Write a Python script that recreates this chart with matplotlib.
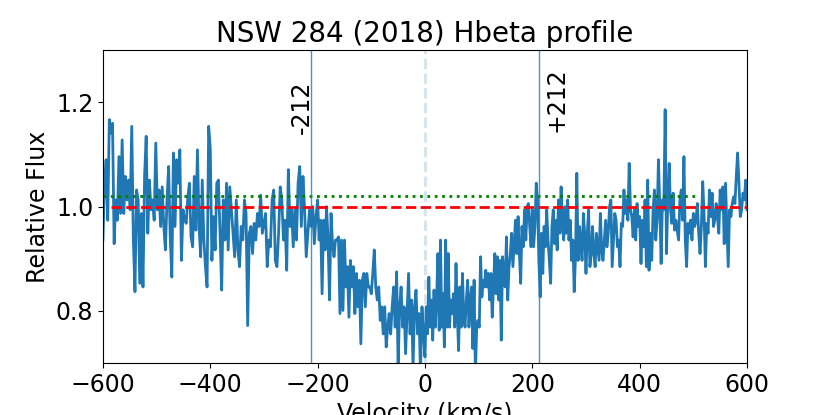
import numpy as np
import matplotlib
matplotlib.use("Agg")
import matplotlib.pyplot as plt

# Hbeta profile in six velocity segments
seg_edges = [-600, -400, -200, 0, 200, 400, 600]

flux_seg1 = [0.936, 1.045, 1.090, 0.974, 1.167, 1.141, 1.160, 0.929, 1.013, 0.974,
             1.096, 0.987, 1.128, 0.987, 1.058, 1.013, 1.051, 0.994, 1.154, 0.936,
             0.837, 1.032, 1.013, 0.853, 0.987, 0.846, 1.058, 1.135, 0.949, 1.051,
             0.994, 1.013, 0.974, 1.122, 0.994, 1.032, 0.962, 1.038, 0.962, 0.917,
             1.013, 1.077, 0.942, 0.865, 1.103, 0.962, 1.090, 1.045, 1.109, 0.897,
             0.994, 0.974, 0.968, 1.019, 1.045, 0.942, 0.923, 1.058, 0.955, 1.109,
             0.962, 0.904, 1.051, 0.936, 0.885, 0.846, 1.154]
flux_seg2 = [1.112, 0.897, 0.981, 0.917, 1.045, 1.051, 0.949, 0.840, 1.013, 0.936,
             1.045, 0.917, 1.038, 0.994, 0.949, 0.904, 1.013, 0.917, 0.885, 0.962,
             0.936, 1.013, 0.987, 0.772, 0.949, 0.962, 0.910, 0.968, 0.936, 0.987,
             0.962, 1.022, 0.949, 0.968, 0.987, 0.885, 0.936, 0.923, 1.013, 1.032,
             0.897, 0.885, 0.949, 1.038, 1.013, 0.936, 0.974, 0.878, 1.071, 0.962,
             0.994, 0.923, 0.994, 0.936, 1.045, 1.077, 0.962, 1.058, 0.994, 0.904,
             0.949, 0.994, 0.962, 1.000, 0.929, 0.981]
flux_seg3 = [1.013, 0.936, 0.974, 0.833, 0.974, 0.917, 1.000, 0.936, 0.821, 0.987,
             0.929, 0.904, 0.936, 0.936, 0.942, 0.795, 0.936, 0.801, 0.936, 0.846,
             0.885, 0.788, 0.897, 0.846, 0.885, 0.795, 0.872, 0.808, 0.859, 0.737,
             0.859, 0.872, 0.808, 0.872, 0.846, 0.846, 0.833, 0.872, 0.917, 0.846,
             0.821, 0.846, 0.782, 0.808, 0.756, 0.808, 0.731, 0.769, 0.795, 0.756,
             0.808, 0.846, 0.769, 0.875, 0.690, 0.808, 0.846, 0.769, 0.808, 0.718,
             0.795, 0.872, 0.756, 0.821, 0.690, 0.808, 0.840, 0.756, 0.795, 0.680,
             0.808, 0.756]
flux_seg4 = [0.712, 0.808, 0.756, 0.865, 0.769, 0.821, 0.744, 0.840, 0.769, 0.821,
             0.910, 0.763, 0.936, 0.769, 0.833, 0.731, 0.936, 0.769, 0.910, 0.769,
             0.821, 0.795, 0.833, 0.769, 0.891, 0.795, 0.724, 0.846, 0.769, 0.872,
             0.788, 0.769, 0.821, 0.859, 0.769, 0.821, 0.846, 0.728, 0.859, 0.680,
             0.769, 0.782, 0.769, 0.904, 0.827, 0.859, 0.846, 0.878, 0.846, 0.872,
             0.821, 0.872, 0.788, 0.846, 0.910, 0.833, 0.904, 0.821, 0.897, 0.744,
             0.904, 0.872, 0.846, 0.942, 0.821, 0.885, 0.910, 0.949, 0.885, 0.929,
             0.974, 0.910, 0.981, 0.910, 0.853, 0.962, 0.923, 0.994, 0.936, 1.000,
             1.006, 0.962, 0.923]
flux_seg5 = [0.994, 0.923, 0.962, 1.045, 1.013, 0.897, 0.827, 0.949, 0.872, 0.962,
             0.923, 0.994, 0.936, 0.897, 0.853, 0.962, 0.994, 0.929, 0.974, 0.917,
             1.013, 0.949, 1.038, 0.962, 0.936, 1.000, 0.949, 1.013, 0.936, 0.974,
             0.897, 0.936, 0.837, 0.904, 1.064, 0.897, 0.962, 0.936, 0.897, 0.987,
             0.949, 0.872, 0.949, 0.994, 0.885, 0.910, 0.962, 0.910, 0.885, 0.949,
             0.923, 0.897, 0.987, 0.917, 0.897, 0.936, 0.974, 0.923, 0.949, 1.000,
             1.013, 0.885, 0.936, 0.987, 0.974, 0.923, 0.936, 0.885, 0.968, 0.962,
             1.032, 0.987, 1.013, 0.974, 1.083, 0.994, 0.981, 0.942, 0.994, 0.936,
             1.006, 0.962]
flux_seg6 = [0.981, 0.891, 0.974, 0.923, 1.013, 0.885, 1.051, 0.878, 0.949, 0.897,
             0.994, 1.032, 0.936, 0.974, 1.090, 1.000, 0.891, 1.013, 0.994, 1.186,
             0.910, 1.013, 1.083, 0.994, 0.968, 1.026, 0.955, 0.974, 0.955, 0.936,
             1.013, 1.032, 0.974, 1.096, 0.936, 0.885, 0.968, 0.949, 0.974, 0.936,
             0.987, 0.962, 0.974, 1.006, 0.949, 0.910, 0.962, 1.048, 0.987, 0.885,
             0.968, 0.949, 1.032, 0.981, 1.026, 0.962, 0.974, 1.006, 0.981, 0.949,
             1.032, 0.994, 1.038, 0.929, 1.045, 0.962, 0.885, 0.994, 0.981, 1.006,
             1.019, 1.006, 1.058, 1.103, 1.045, 0.981, 0.994, 1.026, 1.013, 1.051,
             0.994]

segments = [flux_seg1, flux_seg2, flux_seg3, flux_seg4, flux_seg5, flux_seg6]

velocity = []
flux = []
for i, seg in enumerate(segments):
    last = (i == len(segments) - 1)
    velocity.append(np.linspace(seg_edges[i], seg_edges[i + 1], len(seg), endpoint=last))
    flux.extend(seg)
velocity = np.concatenate(velocity)
flux = np.array(flux)

v_half = 212          # marked velocity
continuum = 1.0
continuum_green = 1.02

fig = plt.figure(figsize=(8.3, 4.15), dpi=100)
ax = fig.add_axes([0.124, 0.125, 0.776, 0.754])

ax.plot(velocity, flux, color='C0', lw=2)
ax.plot([-585, 600], [continuum, continuum], 'r--', lw=2)
ax.plot([-600, 510], [continuum_green, continuum_green], 'g:', lw=2)

ax.axvline(-v_half, color='C0', lw=1, alpha=0.8)
ax.axvline(v_half, color='C0', lw=1, alpha=0.8)
ax.axvline(0, color='C0', lw=2, ls='--', alpha=0.2)

ax.text(-230, 1.19, '-%d' % v_half, rotation=90, ha='center', va='center', fontsize=17)
ax.text(246, 1.205, '+%d' % v_half, rotation=90, ha='center', va='center', fontsize=17)

ax.set_xlim(-600, 600)
ax.set_ylim(0.7, 1.3)
ax.set_yticks([0.8, 1.0, 1.2])
ax.tick_params(labelsize=17)
ax.set_xlabel('Velocity (km/s)', fontsize=17)
ax.set_ylabel('Relative Flux', fontsize=17)
ax.set_title('NSW 284 (2018) Hbeta profile', fontsize=20)

fig.savefig('out.png', dpi=100)
